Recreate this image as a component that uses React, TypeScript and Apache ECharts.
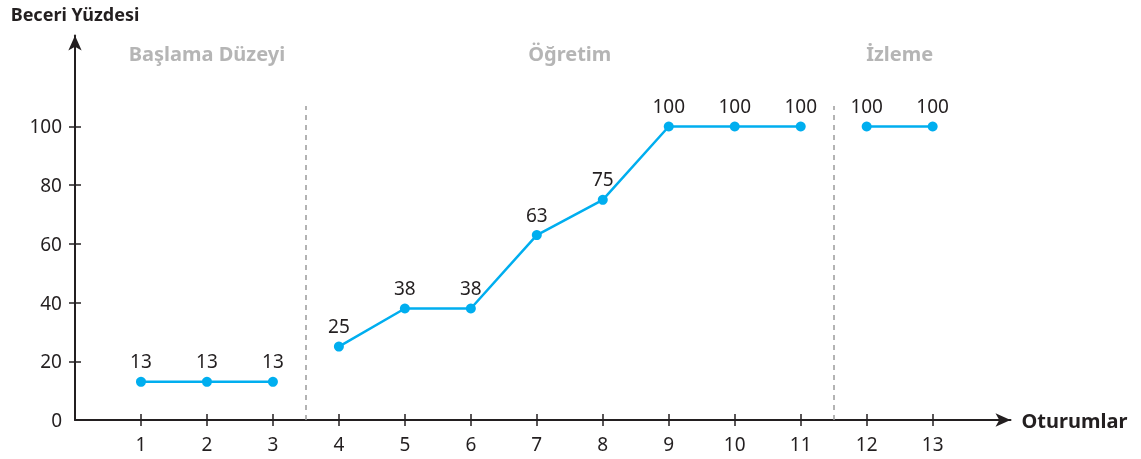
import React, { useEffect, useRef } from "react";
import * as echarts from "echarts";

const sessions = [1, 2, 3, 4, 5, 6, 7, 8, 9, 10, 11, 12, 13];
const skillPercent = [13, 13, 13, 25, 38, 38, 63, 75, 100, 100, 100, 100, 100];
const phaseNames = ["Başlama Düzeyi", "Öğretim", "İzleme"];
const phaseSessions = [
  [1, 2, 3],
  [4, 5, 6, 7, 8, 9, 10, 11],
  [12, 13],
];
const phaseBreaks = [3.5, 11.5];
const yTicks = [0, 20, 40, 60, 80, 100];
const xAxisName = "Oturumlar";
const yAxisName = "Beceri Yüzdesi";

const FONT = "'Noto Sans', 'Open Sans', sans-serif";
const BLUE = "#00aeef";
const INK = "#231f20";

export default function App() {
  const ref = useRef<HTMLDivElement>(null);
  useEffect(() => {
    if (!ref.current) return;
    const chart = echarts.init(ref.current, null, { renderer: "svg" });
    const xMax = 14.18;
    const yMax = 131;
    const phaseCenters = phaseSessions.map(
      (p) => (p[0] + p[p.length - 1]) / 2
    );
    const lineSeries = phaseSessions.map((p, i) => ({
      type: "line",
      xAxisIndex: 0,
      yAxisIndex: 0,
      data: p.map((s) => [s, skillPercent[sessions.indexOf(s)]]),
      symbol: "circle",
      symbolSize: 10,
      lineStyle: { color: BLUE, width: 2.5 },
      itemStyle: { color: BLUE },
      label: {
        show: true,
        position: "top",
        distance: 6,
        color: INK,
        fontFamily: FONT,
        fontSize: 19,
        formatter: (d: any) => String(d.value[1]),
      },
      z: 5,
      markLine:
        i === 0
          ? {
              silent: true,
              symbol: "none",
              label: { show: false },
              lineStyle: { color: "#9a9a9a", type: [5, 5], width: 1.5 },
              data: phaseBreaks.map((b) => [
                { coord: [b, 0] },
                { coord: [b, 107] },
              ]),
            }
          : undefined,
    }));
    const xTickVals = sessions.slice();
    const yTickVals = yTicks.filter((v) => v > 0);
    chart.setOption({
      animation: false,
      grid: { left: 75, right: 130.5, top: 35.5, bottom: 39 },
      xAxis: [
        {
          type: "value",
          min: 0,
          max: xMax,
          interval: 1,
          name: xAxisName,
          nameLocation: "end",
          nameGap: 11,
          nameTextStyle: {
            color: INK,
            fontFamily: FONT,
            fontSize: 20,
            fontWeight: "bold",
            align: "left",
            verticalAlign: "middle",
          },
          axisLine: {
            show: true,
            symbol: ["none", "arrow"],
            symbolSize: [10, 15],
            lineStyle: { color: INK, width: 2 },
          },
          axisTick: {
            show: true,
            length: 6,
            customValues: xTickVals,
            lineStyle: { color: INK, width: 1.5 },
          },
          axisLabel: {
            show: true,
            customValues: xTickVals,
            margin: 14,
            color: INK,
            fontFamily: FONT,
            fontSize: 19,
          },
          splitLine: { show: false },
        },
        {
          type: "value",
          min: 0,
          max: xMax,
          interval: 1,
          position: "bottom",
          axisLine: { show: false },
          axisTick: {
            show: true,
            inside: true,
            length: 6,
            customValues: xTickVals,
            lineStyle: { color: INK, width: 1.5 },
          },
          axisLabel: { show: false },
          splitLine: { show: false },
        },
      ],
      yAxis: [
        {
          type: "value",
          min: 0,
          max: yMax,
          interval: 20,
          name: yAxisName,
          nameLocation: "end",
          nameGap: 13,
          nameTextStyle: {
            color: INK,
            fontFamily: FONT,
            fontSize: 18,
            fontWeight: "bold",
            align: "center",
          },
          axisLine: {
            show: true,
            symbol: ["none", "arrow"],
            symbolSize: [10, 15],
            lineStyle: { color: INK, width: 2 },
          },
          axisTick: {
            show: true,
            length: 6,
            customValues: yTickVals,
            lineStyle: { color: INK, width: 1.5 },
          },
          axisLabel: {
            show: true,
            customValues: yTicks,
            margin: 13,
            color: INK,
            fontFamily: FONT,
            fontSize: 19,
          },
          splitLine: { show: false },
        },
        {
          type: "value",
          min: 0,
          max: yMax,
          interval: 20,
          position: "left",
          axisLine: { show: false },
          axisTick: {
            show: true,
            inside: true,
            length: 6,
            customValues: yTickVals,
            lineStyle: { color: INK, width: 1.5 },
          },
          axisLabel: { show: false },
          splitLine: { show: false },
        },
      ],
      series: [
        ...lineSeries,
        {
          type: "scatter",
          xAxisIndex: 0,
          yAxisIndex: 0,
          symbolSize: 0,
          silent: true,
          data: phaseNames.map((n, i) => ({
            value: [phaseCenters[i], 125],
            name: n,
          })),
          label: {
            show: true,
            position: "inside",
            formatter: (d: any) => d.name,
            color: "#a3a3a3",
            fontFamily: FONT,
            fontSize: 20,
            fontWeight: "bold",
          },
        },
      ],
    });
    return () => chart.dispose();
  }, []);
  return (
    <div
      ref={ref}
      style={{ position: "fixed", left: 0, top: 0, width: 1141, height: 459 }}
    />
  );
}
